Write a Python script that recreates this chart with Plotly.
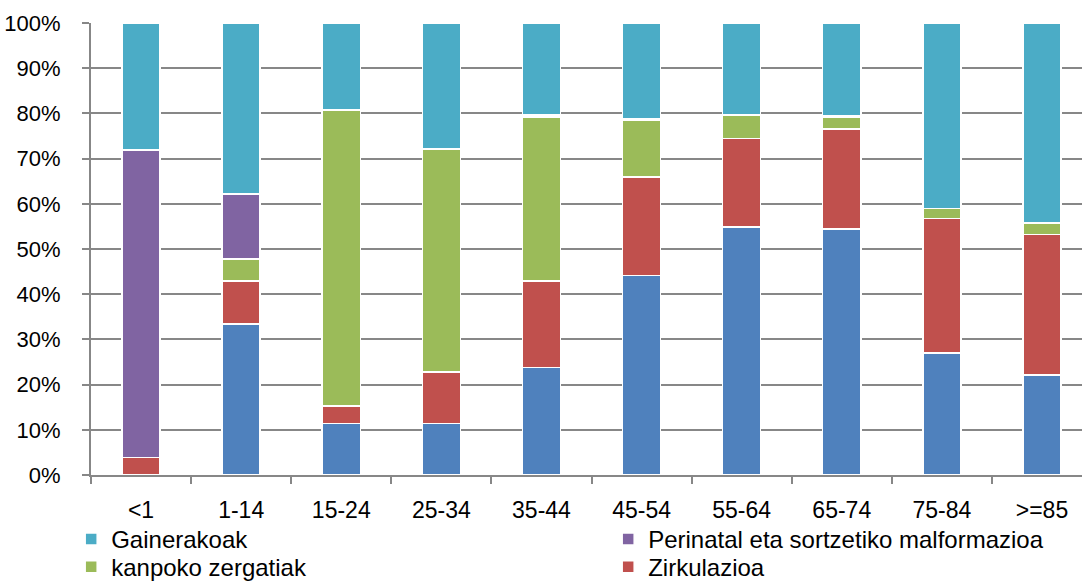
import plotly.graph_objects as go

# Age groups along the x axis
age_groups = ["<1", "1-14", "15-24", "25-34", "35-44",
              "45-54", "55-64", "65-74", "75-84", ">=85"]

# Share of deaths by cause within each age group (%)
tumoreak = [0.0, 33.4, 11.4, 11.4, 23.8, 44.1, 54.9, 54.4, 27.0, 22.1]
zirkulazioa = [3.9, 9.5, 3.9, 11.4, 19.1, 21.8, 19.5, 22.1, 29.8, 31.1]
kanpoko = [0.0, 4.9, 65.5, 49.3, 36.3, 12.6, 5.1, 2.7, 2.2, 2.5]
perinatal = [68.0, 14.4, 0.0, 0.0, 0.4, 0.3, 0.3, 0.2, 0.0, 0.0]
gainerakoak = [28.1, 37.8, 19.2, 27.9, 20.4, 21.2, 20.2, 20.6, 41.0, 44.3]

# y axis ticks
y_ticks = [0, 10, 20, 30, 40, 50, 60, 70, 80, 90, 100]

FONT = "Liberation Sans, Arial, sans-serif"
GRID = "#878787"

series = [
    ("Tumoreak", tumoreak, "#4F81BD", None),
    ("Zirkulazioa", zirkulazioa, "#C0504D", "legend2"),
    ("kanpoko zergatiak", kanpoko, "#9BBB59", "legend2"),
    ("Perinatal eta sortzetiko malformazioa", perinatal, "#8064A2", "legend"),
    ("Gainerakoak", gainerakoak, "#4BACC6", "legend"),
]

fig = go.Figure()
for name, vals, color, leg in series:
    kw = dict(legend=leg) if leg else dict(showlegend=False)
    fig.add_bar(
        x=age_groups, y=vals, name=name,
        marker=dict(color=color, line=dict(color="white", width=1.5)),
        hovertemplate="%{x}: %{y:.1f}%<extra>" + name + "</extra>",
        **kw,
    )

# two one-row legends laid out as a 2x2 grid under the axis
legend_common = dict(
    orientation="h",
    xanchor="left",
    yanchor="top",
    x=-0.020,
    traceorder="reversed",
    entrywidth=492,
    entrywidthmode="pixels",
    font=dict(family=FONT, size=24, color="#000000"),
    bgcolor="rgba(0,0,0,0)",
    borderwidth=0,
)

fig.update_layout(
    width=1082, height=581,
    margin=dict(l=91, r=0, t=23, b=106, autoexpand=False),
    paper_bgcolor="white",
    plot_bgcolor="white",
    barmode="stack",
    bargap=0.62,
    font=dict(family=FONT, size=22, color="#000000"),
    legend=dict(y=-0.0926, **legend_common),
    legend2=dict(y=-0.1540, **legend_common),
    xaxis=dict(
        type="category",
        range=[-0.5, 9.4],
        showline=True, linecolor=GRID, linewidth=2,
        ticks="outside", tickson="boundaries", ticklen=7,
        tickcolor=GRID, tickwidth=2,
        ticklabelstandoff=13,
        showgrid=False,
        tickfont=dict(family=FONT, size=23),
    ),
    yaxis=dict(
        range=[0, 100],
        tickvals=y_ticks,
        ticktext=[f"{v}%" for v in y_ticks],
        showline=True, linecolor=GRID, linewidth=2,
        ticks="outside", ticklen=7, tickcolor=GRID, tickwidth=2,
        ticklabelstandoff=17,
        showgrid=True, gridcolor=GRID, gridwidth=2,
        zeroline=False,
        tickfont=dict(family=FONT, size=22),
    ),
)

fig.write_html("out.html")
